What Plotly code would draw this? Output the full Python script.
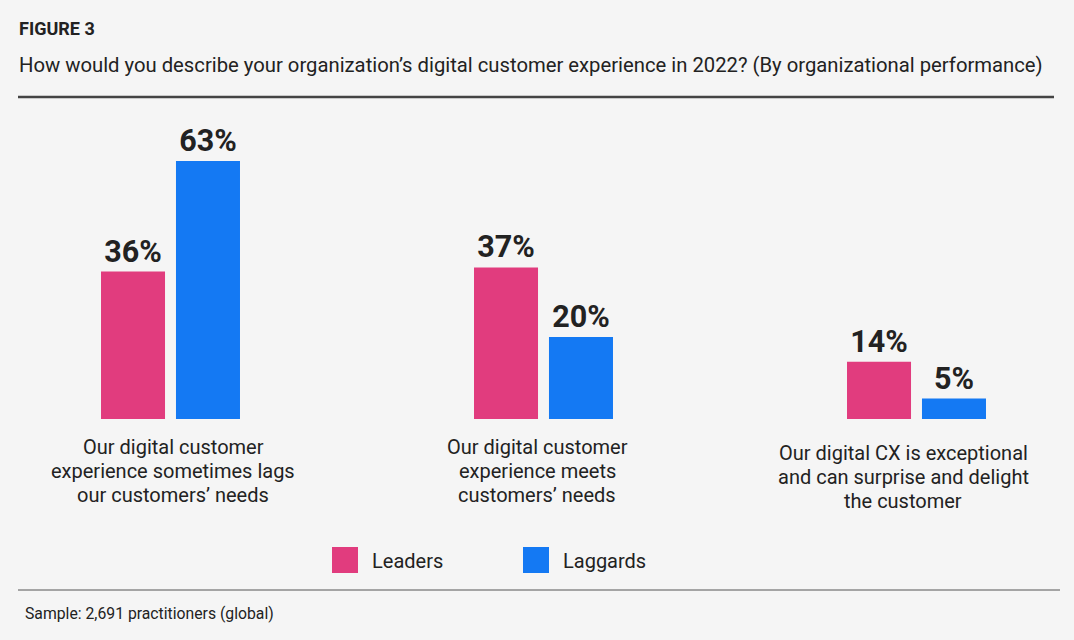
import plotly.graph_objects as go

categories = [
    "Our digital customer\nexperience sometimes lags\nour customers’ needs",
    "Our digital customer\nexperience meets\ncustomers’ needs",
    "Our digital CX is exceptional\nand can surprise and delight\nthe customer",
]
series_names = ["Leaders", "Laggards"]
leaders = [36, 37, 14]
laggards = [63, 20, 5]
colors = ["#e13c7e", "#1479f3"]

FONT = "Roboto"
DARK = "#222222"
BG = "#f5f5f5"

xs = list(range(len(categories)))
bar_w = 0.1716

fig = go.Figure()
for name, vals, col, off in zip(series_names, [leaders, laggards], colors, [-0.185, 0.016]):
    fig.add_trace(go.Bar(
        x=xs, y=vals, name=name,
        width=[bar_w] * len(xs), offset=[off] * len(xs),
        marker=dict(color=col, line=dict(width=0)),
        text=[f"{v}%" for v in vals], textposition="outside",
        textfont=dict(family=FONT, size=30.5, color=DARK, weight="bold"),
        cliponaxis=False, showlegend=False,
    ))

annotations = []
# category labels, one annotation per line
first_line_center = [447, 447, 453]
label_xshift = [3, -6, -13]
for i, c in enumerate(categories):
    for j, line in enumerate(c.split("\n")):
        annotations.append(dict(
            x=i, y=0, xref="x", yref="y", text=line, showarrow=False,
            xanchor="center", yanchor="middle", xshift=label_xshift[i],
            yshift=-(first_line_center[i] + 24 * j - 419),
            font=dict(family=FONT, size=20, color=DARK), borderpad=0,
        ))

# title block
annotations.append(dict(x=18, y=640 - 28, xref="paper", yref="paper", text="<b>FIGURE 3</b>",
                        showarrow=False, xanchor="left", yanchor="middle", borderpad=0,
                        font=dict(family=FONT, size=18, color=DARK)))
annotations.append(dict(
    x=18, y=640 - 65, xref="paper", yref="paper",
    text="How would you describe your organization’s digital customer experience in 2022? (By organizational performance)",
    showarrow=False, xanchor="left", yanchor="middle", borderpad=0,
    font=dict(family=FONT, size=20.25, color=DARK)))
annotations.append(dict(x=24, y=640 - 613, xref="paper", yref="paper",
                        text="Sample: 2,691 practitioners (global)",
                        showarrow=False, xanchor="left", yanchor="middle", borderpad=0,
                        font=dict(family=FONT, size=15.75, color=DARK)))

shapes = [
    dict(type="line", xref="paper", yref="paper", x0=18, x1=1054, y0=640 - 97, y1=640 - 97,
         line=dict(color="#444444", width=2.5)),
    dict(type="line", xref="paper", yref="paper", x0=18, x1=1060, y0=640 - 590, y1=640 - 590,
         line=dict(color="#555555", width=1)),
]

# manual legend
legend_x = [332, 523]
for name, col, lx in zip(series_names, colors, legend_x):
    shapes.append(dict(type="rect", xref="paper", yref="paper", x0=lx, x1=lx + 26,
                       y0=640 - 573, y1=640 - 547, fillcolor=col, line=dict(width=0)))
    annotations.append(dict(x=lx + 39, y=640 - 561, xref="paper", yref="paper", text=name,
                            showarrow=False, xanchor="left", yanchor="middle", borderpad=0,
                            font=dict(family=FONT, size=20, color=DARK)))

# paper coords: convert pixel values to fractions
W, H = 1074, 640
ML, MR, MT, MB = 0, 0, 132, 221
pw, ph = W - ML - MR, H - MT - MB
for a in annotations:
    if a["xref"] == "paper":
        a["x"] = (a["x"] - ML) / pw
        a["y"] = (a["y"] - MB) / ph
for s in shapes:
    if s["xref"] == "paper":
        s["x0"] = (s["x0"] - ML) / pw
        s["x1"] = (s["x1"] - ML) / pw
        s["y0"] = (s["y0"] - MB) / ph
        s["y1"] = (s["y1"] - MB) / ph

fig.update_layout(
    width=W, height=H,
    margin=dict(l=ML, r=MR, t=MT, b=MB, pad=0),
    paper_bgcolor=BG, plot_bgcolor=BG,
    barmode="overlay",
    xaxis=dict(range=[-0.4558, -0.4558 + W / 373.0], visible=False, fixedrange=True),
    yaxis=dict(range=[0, ph / 4.095], visible=False, fixedrange=True),
    annotations=annotations, shapes=shapes,
    font=dict(family=FONT, color=DARK),
    uniformtext=dict(mode=False),
)

fig.write_html("out.html", config={"displayModeBar": False})
